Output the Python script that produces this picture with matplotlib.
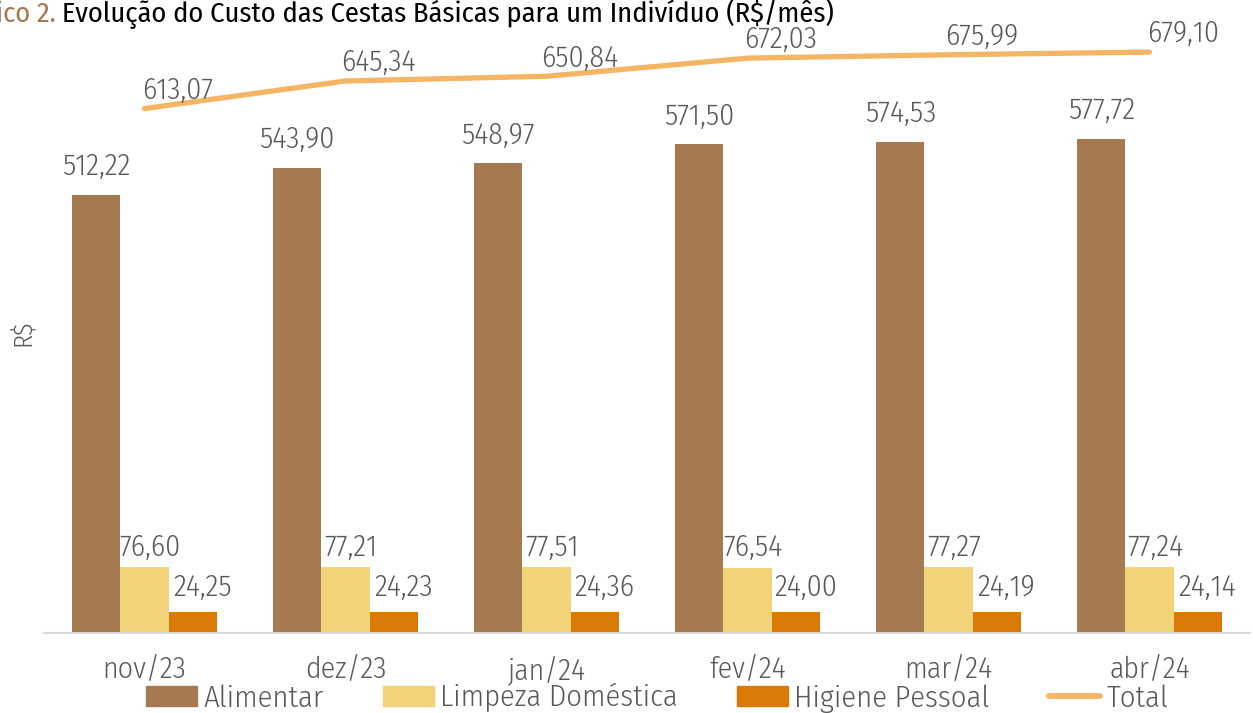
import matplotlib
matplotlib.use("Agg")
import matplotlib.pyplot as plt
import numpy as np
from matplotlib import font_manager
from matplotlib.patches import Patch
from matplotlib.lines import Line2D

months = ["nov/23", "dez/23", "jan/24", "fev/24", "mar/24", "abr/24"]
alimentar = [512.22, 543.90, 548.97, 571.50, 574.53, 577.72]
limpeza = [76.60, 77.21, 77.51, 76.54, 77.27, 77.24]
higiene = [24.25, 24.23, 24.36, 24.00, 24.19, 24.14]
total = [613.07, 645.34, 650.84, 672.03, 675.99, 679.10]

names = {f.name for f in font_manager.fontManager.ttflist}
fam = "DejaVu Sans"
for cand in ["Fira Sans Condensed", "Fira Sans Extra Condensed", "Roboto Condensed",
             "Asap Condensed", "Archivo Narrow", "Liberation Sans Narrow"]:
    if cand in names:
        fam = cand
        break
plt.rcParams["font.family"] = [fam, "DejaVu Sans"]

gray = "#595959"
c_ali, c_lim, c_hig, c_tot = "#A67A50", "#F2D37A", "#DA7A05", "#F4B565"

W, H = 1253, 713
fig = plt.figure(figsize=(W / 100, H / 100), dpi=100)
ax = fig.add_axes([44 / W, 80 / H, 1206 / W, 633 / H])

x = np.arange(len(months))
bw = 0.24
ax.bar(x - bw, alimentar, bw, color=c_ali)
ax.bar(x, limpeza, bw, color=c_lim)
ax.bar(x + bw, higiene, bw, color=c_hig)
ax.plot(x, total, color=c_tot, lw=3.8, solid_capstyle="round")

fmt = lambda v: f"{v:.2f}".replace(".", ",")
fs = 21.5
lw_ = 300
for i in range(len(months)):
    ax.annotate(fmt(alimentar[i]), (x[i] - bw, alimentar[i]), xytext=(0, 20),
                textcoords="offset points", ha="center", va="center", fontsize=fs,
                color=gray, fontweight=lw_)
    ax.annotate(fmt(limpeza[i]), (x[i], limpeza[i]), xytext=(4, 14),
                textcoords="offset points", ha="center", va="center", fontsize=fs,
                color=gray, fontweight=lw_)
    ax.annotate(fmt(higiene[i]), (x[i] + bw, higiene[i]), xytext=(7, 18),
                textcoords="offset points", ha="center", va="center", fontsize=fs,
                color=gray, fontweight=lw_)
    ax.annotate(fmt(total[i]), (x[i], total[i]), xytext=(24, 13),
                textcoords="offset points", ha="center", va="center", fontsize=fs,
                color=gray, fontweight=lw_)

ax.set_xlim(-0.5, len(months) - 0.5)
ax.set_ylim(0, 740)
ax.set_xticks(x)
ax.set_xticklabels(months, fontsize=fs, color=gray, fontweight=lw_)
ax.tick_params(axis="x", length=0, pad=16)
ax.set_yticks([])
for s in ["top", "right", "left"]:
    ax.spines[s].set_visible(False)
ax.spines["bottom"].set_color("#D9D9D9")
ax.spines["bottom"].set_linewidth(1.5)

fig.text(22 / W, 1 - 333 / H, "R$", rotation=90, ha="center", va="center",
         fontsize=19, color=gray, fontweight=lw_)

fig.text(56 / W, 1 - 14 / H, "Gráfico 2.", ha="right", va="center", fontsize=20.5, color="#A5784E")
fig.text(62 / W, 1 - 14 / H, "Evolução do Custo das Cestas Básicas para um Indivíduo (R$/mês)",
         ha="left", va="center", fontsize=20.5, color="black")

handles = [Patch(color=c_ali), Patch(color=c_lim), Patch(color=c_hig),
           Line2D([], [], color=c_tot, lw=4.2, solid_capstyle="round")]
labels = ["Alimentar", "Limpeza Doméstica", "Higiene Pessoal", "Total"]
leg = fig.legend(handles, labels, loc="center", bbox_to_anchor=(657 / W, 1 - 698 / H), ncol=4,
                 frameon=False, fontsize=22, labelcolor=gray, handlelength=1.67, handleheight=0.6,
                 handletextpad=0.2, columnspacing=1.95, borderpad=0, borderaxespad=0)
for t in leg.get_texts():
    t.set_fontweight(lw_)

fig.savefig("out.png", dpi=100)
